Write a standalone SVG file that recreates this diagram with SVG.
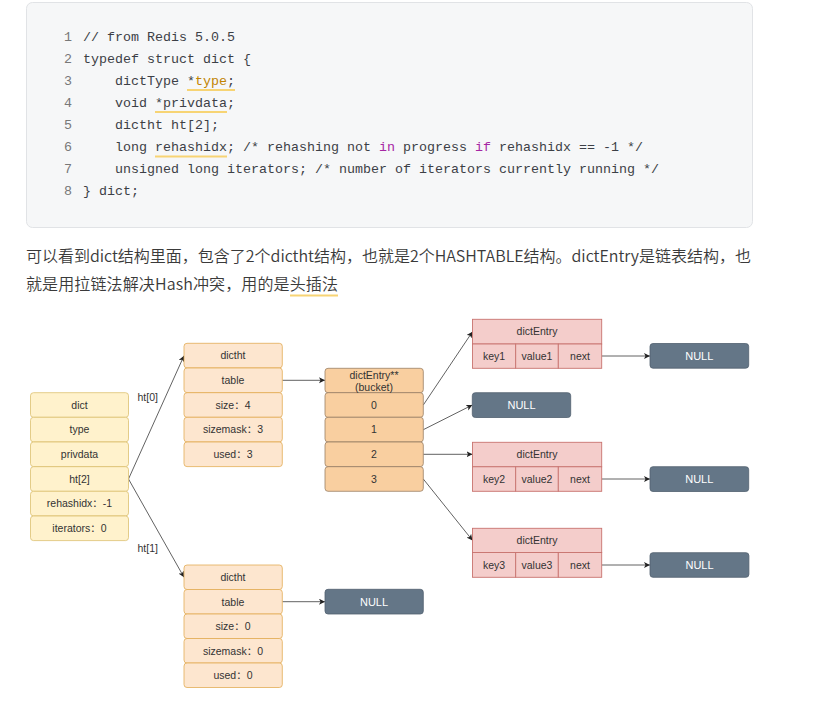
<svg xmlns="http://www.w3.org/2000/svg" width="813" height="708" viewBox="0 0 813 708">
<style>
.code{font-family:"Liberation Mono","DejaVu Sans Mono",monospace;font-size:13.33px;fill:#3c3f46;white-space:pre}
.ln{font-family:"Liberation Mono","DejaVu Sans Mono",monospace;font-size:13.33px;fill:#787878;text-anchor:end}
.kw{fill:#a626a4}
.ty{fill:#c18401}
.hl{stroke:#f7d474;stroke-width:2;fill:none}
.para{font-family:"Noto Sans CJK SC","Noto Sans",sans-serif;font-size:16px;font-weight:350;fill:#3a3a3a}
.t{font-family:"Liberation Sans","Noto Sans CJK SC",sans-serif;font-size:10.5px;fill:#333;text-anchor:middle}
.tw{font-family:"Liberation Sans","Noto Sans CJK SC",sans-serif;font-size:11px;fill:#fff;text-anchor:middle}
.y{fill:#fff2cc;stroke:#dcc070;stroke-width:0.8}
.o{fill:#fde6cf;stroke:#e2ac55;stroke-width:0.8}
.b{fill:#f9cfa0;stroke:#9a8066;stroke-width:0.8}
.r{fill:#f4cdcb;stroke:#c8736f;stroke-width:0.9}
.n{fill:#647687;stroke:#51606e;stroke-width:0.8}
.c{stroke:#3a3a3a;stroke-width:0.8;fill:none;marker-end:url(#ar)}
.lbl{font-family:"Liberation Sans",sans-serif;font-size:10.5px;fill:#333;text-anchor:middle}
</style>
<defs>
<marker id="ar" markerUnits="userSpaceOnUse" markerWidth="8" markerHeight="8" refX="6" refY="3" orient="auto">
<path d="M0,0 L6,3 L0,6 L1.5,3 z" fill="#222"/>
</marker>
</defs>
<rect width="813" height="708" fill="#fff"/>

<g id="codeblock">
<rect x="26.5" y="2.5" width="726" height="225" rx="6" fill="#f6f7f8" stroke="#e1e3e6"/>
<text class="ln" x="72" y="40.5">1</text>
<text class="ln" x="72" y="62.5">2</text>
<text class="ln" x="72" y="84.5">3</text>
<text class="ln" x="72" y="106.5">4</text>
<text class="ln" x="72" y="128.5">5</text>
<text class="ln" x="72" y="150.5">6</text>
<text class="ln" x="72" y="172.5">7</text>
<text class="ln" x="72" y="194.5">8</text>
<text class="code" x="83" y="40.5">// from Redis 5.0.5</text>
<text class="code" x="83" y="62.5">typedef struct dict {</text>
<text class="code" x="115" y="84.5">dictType *<tspan class="ty">type</tspan>;</text>
<text class="code" x="115" y="106.5">void *privdata;</text>
<text class="code" x="115" y="128.5">dictht ht[2];</text>
<text class="code" x="115" y="150.5">long rehashidx; /* rehashing not <tspan class="kw">in</tspan> progress <tspan class="kw">if</tspan> rehashidx == -1 */</text>
<text class="code" x="115" y="172.5">unsigned long iterators; /* number of iterators currently running */</text>
<text class="code" x="83" y="194.5">} dict;</text>
<line class="hl" x1="187" y1="90" x2="235" y2="90"/>
<line class="hl" x1="155" y1="112" x2="227" y2="112"/>
<line class="hl" x1="155" y1="156.5" x2="227" y2="156.5"/>
</g>

<g id="paragraph">
<text class="para" x="26" y="262" textLength="725" lengthAdjust="spacing">可以看到dict结构里面，包含了2个dictht结构，也就是2个HASHTABLE结构。dictEntry是链表结构，也</text>
<text class="para" x="26" y="290" textLength="312" lengthAdjust="spacing">就是用拉链法解决Hash冲突，用的是头插法</text>
<line x1="290" y1="295.5" x2="338" y2="295.5" stroke="#f7d474" stroke-width="2"/>
</g>

<g id="connectors">
<path class="c" d="M128.5,479 L184,355.7"/>
<path class="c" d="M128.5,479 L184,577.3"/>
<path class="c" d="M282.3,380.3 L325,380.3"/>
<path class="c" d="M282.3,601.7 L325,601.7"/>
<path class="c" d="M423.3,405 L472.5,331.7"/>
<path class="c" d="M423.3,429.7 L472.3,405"/>
<path class="c" d="M423.3,454.3 L472.5,454.3"/>
<path class="c" d="M423.3,479 L472.5,540.4"/>
<path class="c" d="M601.7,356 L650,356"/>
<path class="c" d="M601.7,479 L650,479"/>
<path class="c" d="M601.7,565 L650,565"/>
<text class="lbl" x="147.7" y="400.5">ht[0]</text>
<text class="lbl" x="147.7" y="552">ht[1]</text>
</g>

<g id="dict">
<rect class="y" x="30.5" y="392.7" width="98" height="24.6" rx="3"/>
<rect class="y" x="30.5" y="417.3" width="98" height="24.6" rx="3"/>
<rect class="y" x="30.5" y="442" width="98" height="24.6" rx="3"/>
<rect class="y" x="30.5" y="466.7" width="98" height="24.6" rx="3"/>
<rect class="y" x="30.5" y="491.3" width="98" height="24.6" rx="3"/>
<rect class="y" x="30.5" y="516" width="98" height="24.6" rx="3"/>
<text class="t" x="79.5" y="408.7">dict</text>
<text class="t" x="79.5" y="433.3">type</text>
<text class="t" x="79.5" y="458">privdata</text>
<text class="t" x="79.5" y="482.7">ht[2]</text>
<text class="t" x="79.5" y="507.3">rehashidx：-1</text>
<text class="t" x="79.5" y="532">iterators：0</text>
</g>

<g id="dictht0">
<rect class="o" x="184" y="343.3" width="98.3" height="24.6" rx="3"/>
<rect class="o" x="184" y="368" width="98.3" height="24.6" rx="3"/>
<rect class="o" x="184" y="392.7" width="98.3" height="24.6" rx="3"/>
<rect class="o" x="184" y="417.3" width="98.3" height="24.6" rx="3"/>
<rect class="o" x="184" y="442" width="98.3" height="24.6" rx="3"/>
<text class="t" x="233" y="359.3">dictht</text>
<text class="t" x="233" y="384">table</text>
<text class="t" x="233" y="408.7">size：4</text>
<text class="t" x="233" y="433.3">sizemask：3</text>
<text class="t" x="233" y="458">used：3</text>
</g>

<g id="dictht1">
<rect class="o" x="184" y="565" width="98.3" height="24.5" rx="3"/>
<rect class="o" x="184" y="589.5" width="98.3" height="24.5" rx="3"/>
<rect class="o" x="184" y="614" width="98.3" height="24.5" rx="3"/>
<rect class="o" x="184" y="638.5" width="98.3" height="24.5" rx="3"/>
<rect class="o" x="184" y="663" width="98.3" height="24.5" rx="3"/>
<text class="t" x="233" y="581">dictht</text>
<text class="t" x="233" y="605.5">table</text>
<text class="t" x="233" y="630">size：0</text>
<text class="t" x="233" y="654.5">sizemask：0</text>
<text class="t" x="233" y="679">used：0</text>
</g>

<g id="bucket">
<rect class="b" x="325" y="368.3" width="98.3" height="24.4" rx="3"/>
<rect class="b" x="325" y="392.7" width="98.3" height="24.6" rx="3"/>
<rect class="b" x="325" y="417.3" width="98.3" height="24.6" rx="3"/>
<rect class="b" x="325" y="442" width="98.3" height="24.6" rx="3"/>
<rect class="b" x="325" y="466.7" width="98.3" height="24.6" rx="3"/>
<text class="t" x="374" y="378.5">dictEntry**</text>
<text class="t" x="374" y="391">(bucket)</text>
<text class="t" x="374" y="408.7">0</text>
<text class="t" x="374" y="433.3">1</text>
<text class="t" x="374" y="458">2</text>
<text class="t" x="374" y="482.7">3</text>
</g>

<g id="entry1">
<rect class="r" x="472.5" y="319.3" width="129.2" height="24.7"/>
<rect class="r" x="472.5" y="344" width="43.2" height="24.3"/>
<rect class="r" x="515.7" y="344" width="42.6" height="24.3"/>
<rect class="r" x="558.3" y="344" width="43.4" height="24.3"/>
<text class="t" x="537" y="335.3">dictEntry</text>
<text class="t" x="494" y="359.8">key1</text>
<text class="t" x="537" y="359.8">value1</text>
<text class="t" x="580" y="359.8">next</text>
</g>

<g id="entry2">
<rect class="r" x="472.5" y="442.3" width="129.2" height="24.5"/>
<rect class="r" x="472.5" y="466.8" width="43.2" height="24.5"/>
<rect class="r" x="515.7" y="466.8" width="42.6" height="24.5"/>
<rect class="r" x="558.3" y="466.8" width="43.4" height="24.5"/>
<text class="t" x="537" y="458.2">dictEntry</text>
<text class="t" x="494" y="482.7">key2</text>
<text class="t" x="537" y="482.7">value2</text>
<text class="t" x="580" y="482.7">next</text>
</g>

<g id="entry3">
<rect class="r" x="472.5" y="528.3" width="129.2" height="24.2"/>
<rect class="r" x="472.5" y="552.5" width="43.2" height="24.8"/>
<rect class="r" x="515.7" y="552.5" width="42.6" height="24.8"/>
<rect class="r" x="558.3" y="552.5" width="43.4" height="24.8"/>
<text class="t" x="537" y="544">dictEntry</text>
<text class="t" x="494" y="568.6">key3</text>
<text class="t" x="537" y="568.6">value3</text>
<text class="t" x="580" y="568.6">next</text>
</g>

<g id="null1">
<rect class="n" x="650" y="343.5" width="98.7" height="24.7" rx="3"/>
<text class="tw" x="699.3" y="359.8">NULL</text>
</g>
<g id="null-bucket1">
<rect class="n" x="472.3" y="392.7" width="98.4" height="24.8" rx="3"/>
<text class="tw" x="521.5" y="409">NULL</text>
</g>
<g id="null2">
<rect class="n" x="650" y="466.7" width="98.7" height="24.8" rx="3"/>
<text class="tw" x="699.3" y="483">NULL</text>
</g>
<g id="null3">
<rect class="n" x="650" y="552.7" width="98.9" height="24.6" rx="3"/>
<text class="tw" x="699.5" y="569">NULL</text>
</g>
<g id="null-ht1">
<rect class="n" x="325" y="589.3" width="98.3" height="24.7" rx="3"/>
<text class="tw" x="374" y="605.6">NULL</text>
</g>
</svg>
